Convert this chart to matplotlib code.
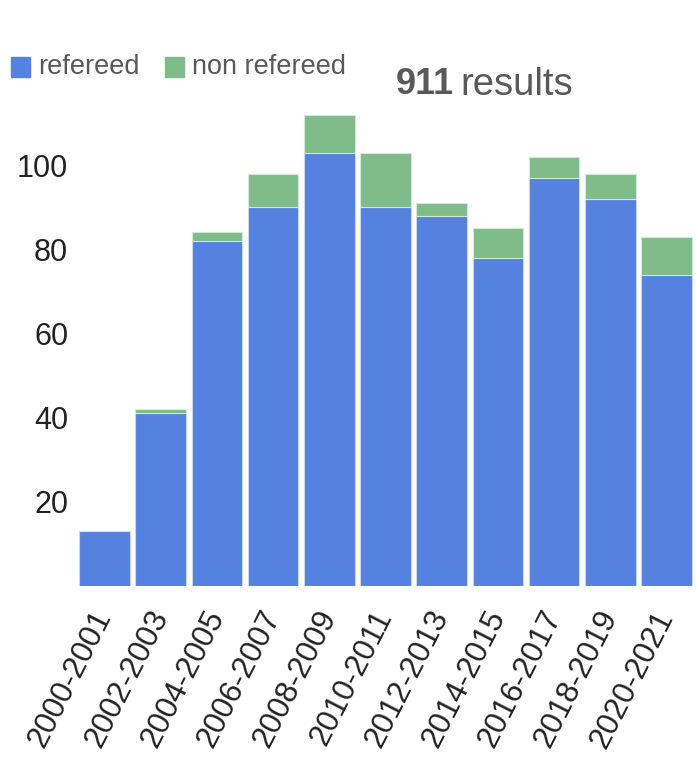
import matplotlib
matplotlib.use("Agg")
import matplotlib.pyplot as plt
import numpy as np

periods = ["2000-2001", "2002-2003", "2004-2005", "2006-2007", "2008-2009",
           "2010-2011", "2012-2013", "2014-2015", "2016-2017", "2018-2019",
           "2020-2021"]
refereed = [13, 41, 82, 90, 103, 90, 88, 78, 97, 92, 74]
non_refereed = [0, 1, 2, 8, 9, 13, 3, 7, 5, 6, 9]
y_ticks = [20, 40, 60, 80, 100]

BLUE = "#5581df"
GREEN = "#80bc89"
TEXT = "#595959"

plt.rcParams["font.family"] = ["Liberation Sans", "DejaVu Sans"]

fig = plt.figure(figsize=(6.96, 7.70), dpi=100)
ax = fig.add_axes([76.5 / 696, (770 - 586) / 770, 618 / 696, 484 / 770])

x = np.arange(len(periods))
ax.bar(x, refereed, width=0.9, color=BLUE, edgecolor="#c9d6f2", linewidth=0.8)
ax.bar(x, non_refereed, width=0.9, bottom=refereed, color=GREEN,
       edgecolor="#d3e8d6", linewidth=0.8)

ax.set_xlim(-0.5, len(periods) - 0.5)
ax.set_ylim(0, 115)
ax.set_yticks(y_ticks)
ax.set_yticklabels([str(v) for v in y_ticks], fontsize=22, color="#222222")
ax.set_xticks(x)
ax.set_xticklabels(periods, rotation=63, ha="right", va="center",
                   rotation_mode="anchor", fontsize=22.5, color="#222222")
ax.tick_params(axis="both", length=0)
ax.tick_params(axis="y", pad=6)
ax.tick_params(axis="x", pad=19)
for s in ax.spines.values():
    s.set_visible(False)

# legend drawn as swatches + labels in figure pixels
def px(xp, yp):
    return xp / 696, 1 - yp / 770

for sx, label, col in [(11, "refereed", BLUE), (165, "non refereed", GREEN)]:
    fx, fy = px(sx, 77)
    fig.patches.append(plt.Rectangle((fx, fy), 19 / 696, 20 / 770,
                                     transform=fig.transFigure, color=col))
    tx, ty = px(sx + 27, 67)
    fig.text(tx, ty, label, fontsize=19.5, color=TEXT, va="center", ha="left")

bx, by = px(396, 85)
t1 = fig.text(bx, by, "911", fontsize=26, fontweight="bold", color=TEXT,
              va="center", ha="left")
fig.canvas.draw()
bb = t1.get_window_extent()
fig.text((bb.x1 + 6) / 696, by, "results", fontsize=27.5, color=TEXT,
         va="center", ha="left")

fig.savefig("out.png", dpi=100)
